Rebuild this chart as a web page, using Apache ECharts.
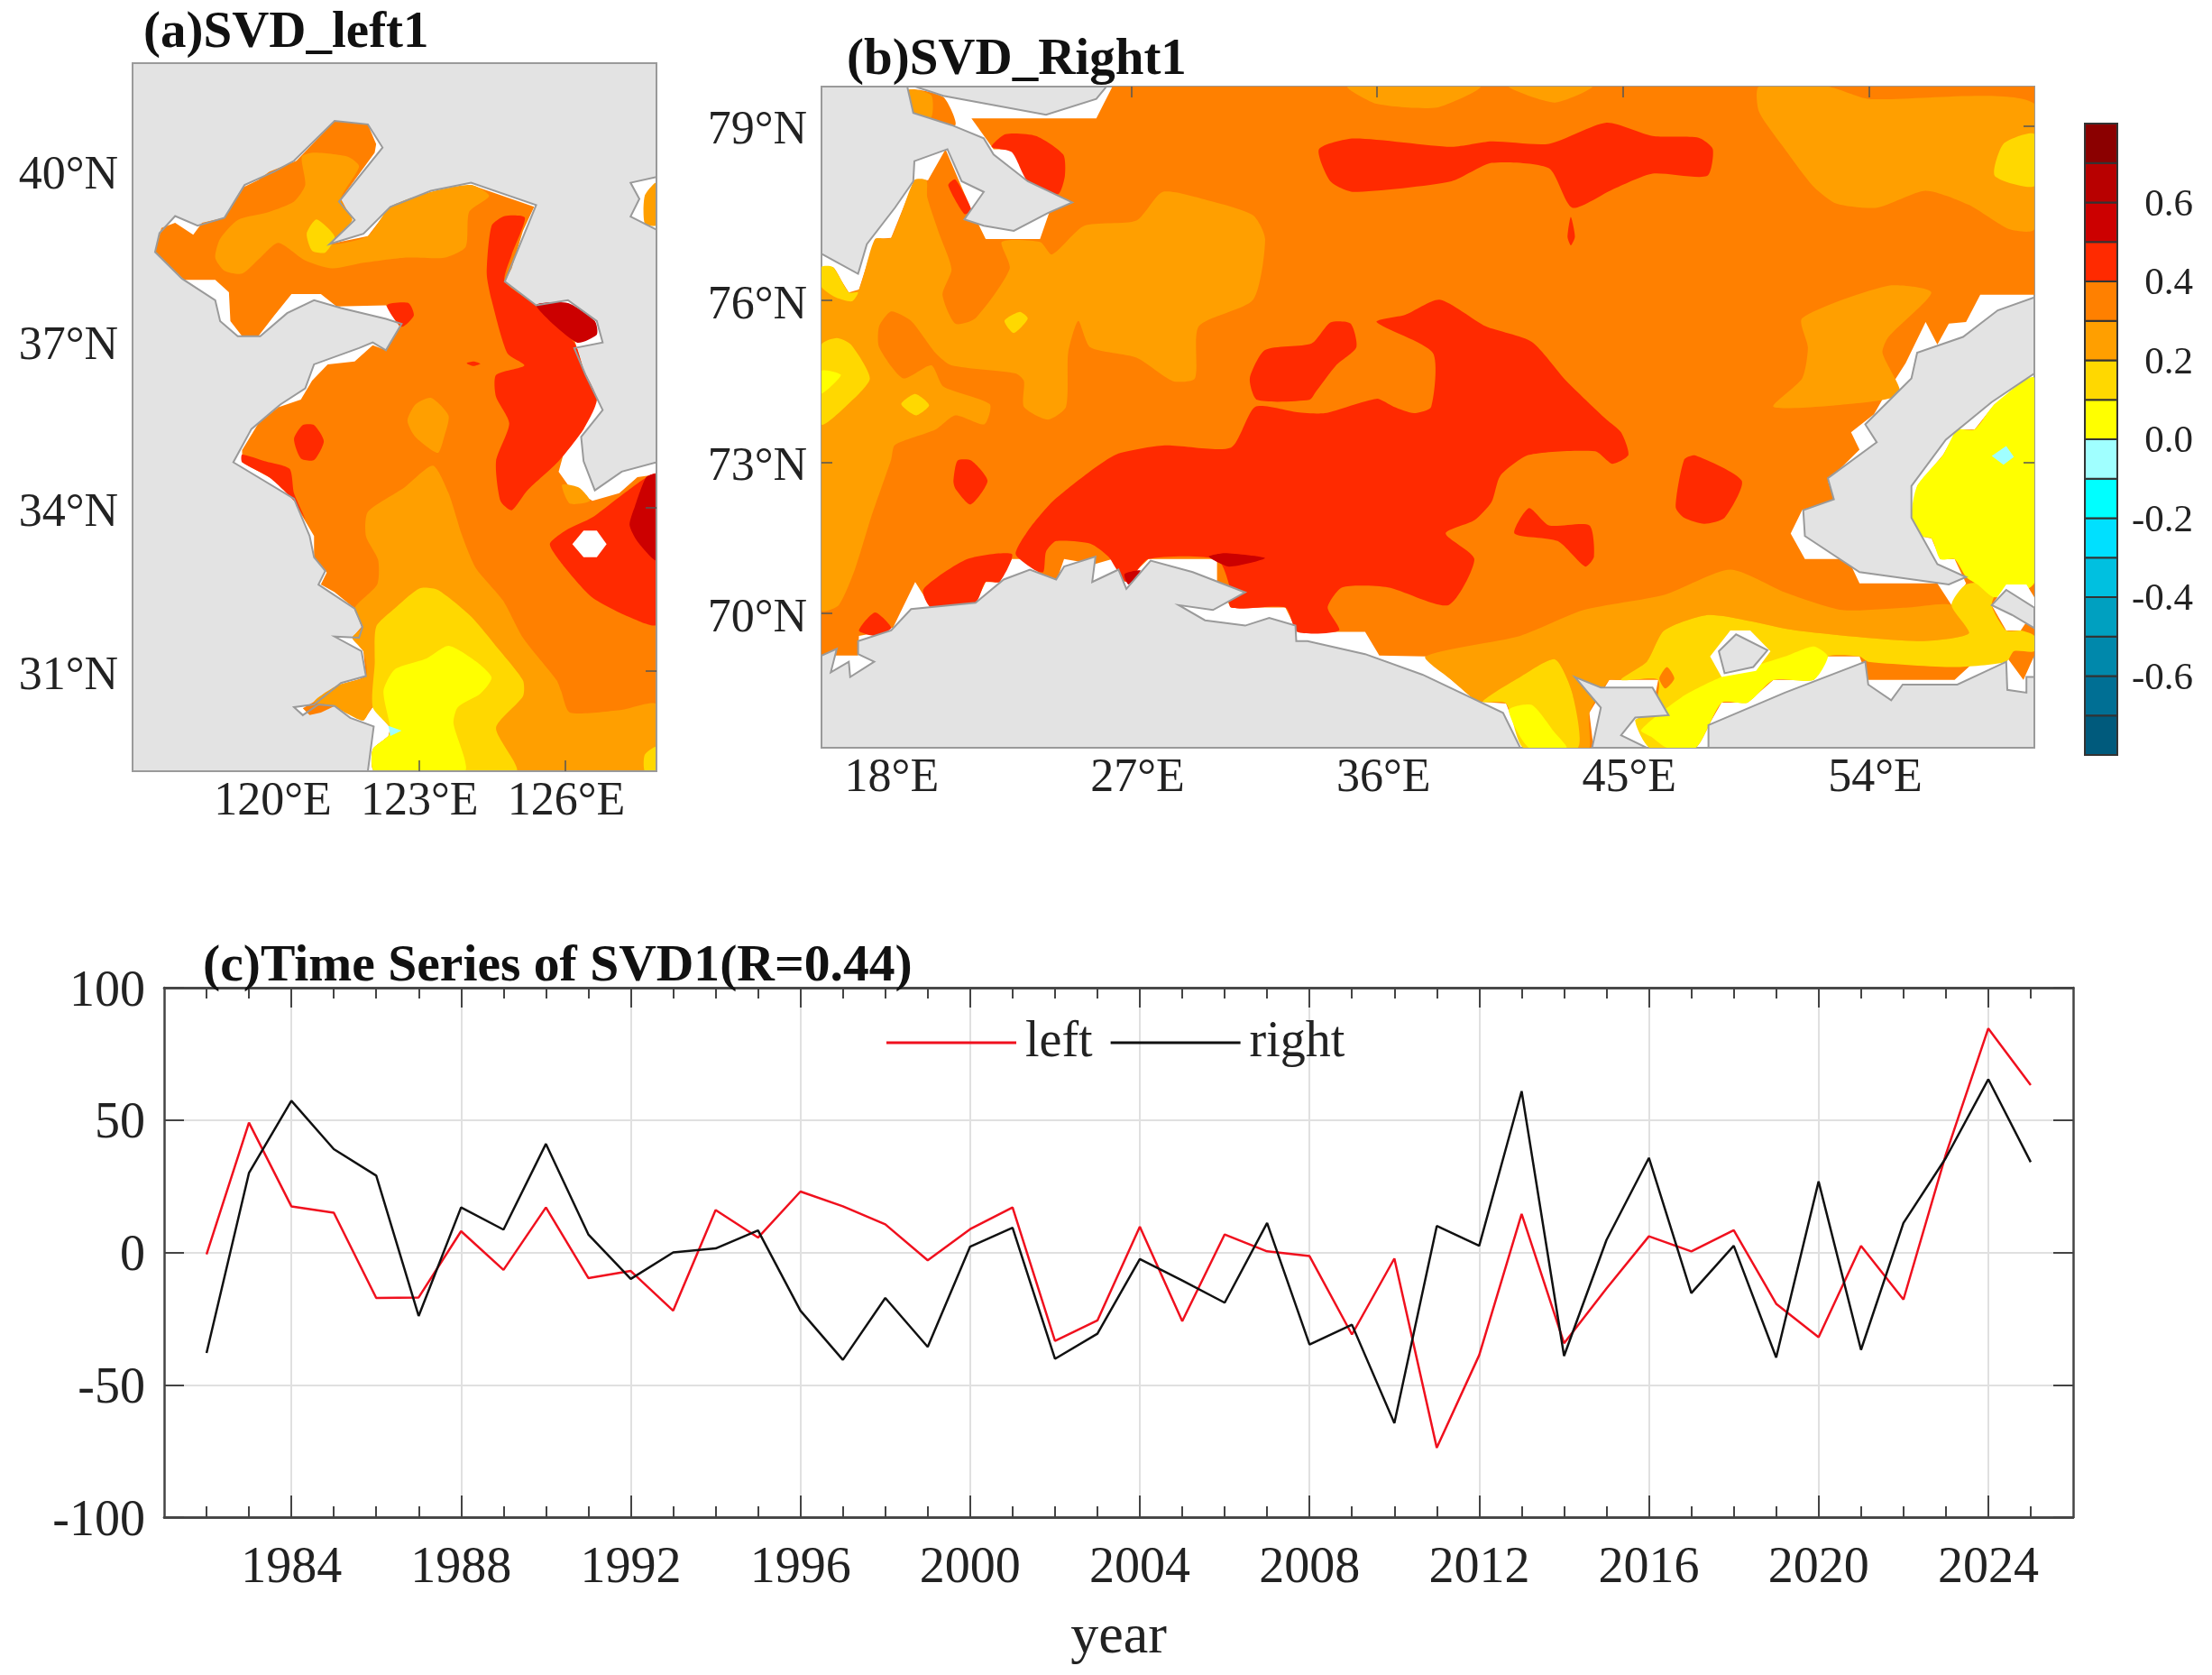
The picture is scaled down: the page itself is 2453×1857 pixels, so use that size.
<!DOCTYPE html>
<html><head><meta charset="utf-8">
<style>html,body{margin:0;padding:0;background:#fff}#c{width:2453px;height:1857px}</style>
<script src="https://cdn.jsdelivr.net/npm/echarts@6/dist/echarts.min.js"></script>
</head><body><div id="c"></div>
<script>
// ---------- time series ----------
const years=[1982,1983,1984,1985,1986,1987,1988,1989,1990,1991,1992,1993,1994,1995,1996,1997,1998,1999,2000,2001,2002,2003,2004,2005,2006,2007,2008,2009,2010,2011,2012,2013,2014,2015,2016,2017,2018,2019,2020,2021,2022,2023,2024,2025];
const leftSeries=[-0.7,49,17.4,15,-17.2,-17,8,-6.6,17,-9.7,-7,-22,16,5.6,23,17.4,10.6,-3,8.8,17,-33.4,-25.7,9.7,-26,6.8,0.4,-1.4,-31,-2.3,-73.8,-38.8,14.5,-34.3,-13.6,6.1,0.4,8.4,-19.4,-32,2.5,-17.8,37,84.6,63.2];
const rightSeries=[-38,30,57.3,39,29,-24,17,8.6,41,6.8,-10,0,1.5,8.3,-22,-40.6,-17.2,-35.7,2.2,9.3,-40.2,-30.7,-2.5,-10.6,-19,11.1,-34.8,-27.3,-64.5,10,2.5,60.9,-39.1,4.7,35.7,-15.4,2.5,-39.7,26.8,-36.8,11.1,35.7,65.4,34.1];
const yearTicks=[1984,1988,1992,1996,2000,2004,2008,2012,2016,2020,2024];
// ---------- colour scale ----------
const cbLevels=[-0.8,-0.7,-0.6,-0.5,-0.4,-0.3,-0.2,-0.1,0,0.1,0.2,0.3,0.4,0.5,0.6,0.7,0.8];
const cbColors=['#005a7c','#006f94','#0088ab','#00a0c0','#00c0e0','#00e0ff','#00ffff','#a0ffff','#ffff00','#ffd800','#ff9f00','#ff8000','#ff2a00','#cc0000','#b80000','#8b0000'];
const cbTicks=[-0.6,-0.4,-0.2,0,0.2,0.4,0.6];
const Pale='#a0ffff',Yel='#ffff00',Gold='#ffd800',LtO='#ff9f00',Org='#ff8000',Red='#ff2a00',Dark='#cc0000',White='#ffffff';
// ---------- panel (a) geography: [lon,lat] ----------
const lonRangeA=[117.15,127.86],latRangeA=[29.13,41.85];
const seaA=[[121.96,29.13],[122.08,29.97],[121.6,30.13],[121.28,30.35],[120.95,30.38],[120.63,30.18],[120.45,30.33],[120.86,30.38],[121.41,30.78],[121.92,30.91],[121.83,31.37],[121.28,31.64],[121.78,31.62],[121.85,31.82],[121.69,32.16],[120.95,32.6],[121.09,32.85],[120.86,33.1],[120.77,33.49],[120.45,34.17],[119.21,34.83],[119.58,35.43],[120.17,35.87],[120.68,36.16],[120.86,36.59],[121.78,36.88],[122.06,36.98],[122.33,36.84],[122.65,37.31],[122.33,37.4],[121.41,37.59],[120.86,37.73],[120.31,37.5],[119.76,37.09],[119.3,37.09],[118.94,37.36],[118.84,37.73],[118.16,38.11],[117.61,38.58],[117.7,38.91],[118.02,39.21],[118.48,39.04],[119.03,39.18],[119.44,39.75],[120.04,39.98],[120.45,40.17],[121.28,40.86],[121.96,40.8],[122.26,40.4],[121.37,39.46],[121.69,39.14],[121.18,38.72],[121.87,38.9],[122.42,39.37],[123.25,39.65],[124.07,39.79],[125.4,39.4],[124.76,38.06],[125.4,37.64],[126.05,37.73],[126.64,37.36],[126.76,36.98],[126.18,36.88],[126.41,36.4],[126.76,35.77],[126.32,35.29],[126.37,34.85],[126.6,34.32],[127.15,34.66],[127.86,34.83],[127.86,29.13]];
const seaA2=[[127.86,39.89],[127.33,39.79],[127.51,39.51],[127.33,39.2],[127.86,38.97]];
const baseA=[[122.1,29.13],[122.06,29.54],[122.38,29.79],[122.42,29.94],[122.06,30.33],[121.87,30.08],[121.5,30.23],[121.28,30.35],[121,30.23],[120.77,30.18],[120.63,30.31],[121.05,30.53],[121.32,30.73],[121.78,30.85],[121.92,30.91],[121.87,31.37],[121.64,31.62],[121.83,31.82],[121.69,32.16],[121.28,32.46],[121,32.6],[121.12,32.82],[120.86,33.1],[120.86,33.49],[120.5,34.03],[120.4,34.32],[119.94,34.56],[119.39,34.83],[119.39,35.05],[119.72,35.53],[120.13,35.82],[120.59,35.96],[120.82,36.3],[121.14,36.59],[121.69,36.64],[122.06,36.93],[122.33,36.84],[122.61,37.26],[122.33,37.64],[121.32,37.62],[121,37.84],[120.4,37.84],[120.04,37.45],[119.72,37.09],[119.39,37.09],[119.15,37.36],[119.12,37.87],[118.84,38.09],[118.2,38.09],[117.61,38.58],[117.74,39],[118.02,39.09],[118.39,38.88],[118.57,39.09],[119.03,39.18],[119.39,39.7],[119.72,39.84],[119.94,39.98],[120.5,40.17],[121.28,40.86],[121.96,40.8],[122.13,40.46],[122.1,40.31],[121.41,39.51],[121.64,39.14],[121.18,38.72],[121.96,38.86],[122.42,39.37],[122.7,39.44],[123.29,39.61],[124.07,39.75],[125.36,39.37],[125.13,38.95],[124.9,38.29],[124.76,38.06],[125.4,37.64],[126.05,37.68],[126.6,37.36],[126.64,37.12],[126.18,37.03],[126.37,36.5],[126.64,35.96],[126.37,35.43],[125.95,34.95],[125.86,34.66],[126.05,34.42],[126.55,34.13],[127.1,34.27],[127.47,34.56],[127.86,34.61],[127.86,29.13]];
const a_lt1=[[120.61,40.24],[120.86,40.31],[121.55,40.24],[121.78,40.07],[121.41,39.51],[121.64,39.14],[121.18,38.72],[121.96,38.86],[122.42,39.37],[123.25,39.63],[124.07,39.75],[124.44,39.56],[124.03,39.28],[123.96,38.67],[123.52,38.48],[122.7,38.48],[121.87,38.39],[121.23,38.29],[120.68,38.43],[120.13,38.74],[119.76,38.48],[119.39,38.2],[119.03,38.25],[118.84,38.48],[118.94,38.81],[119.3,39.14],[119.94,39.28],[120.45,39.46],[120.68,39.75]];
const a_gold1=[[120.71,38.9],[120.91,39.15],[121.28,38.85],[121.09,38.57],[120.82,38.6]];
const a_lt2=[[122.77,35.58],[122.93,35.87],[123.25,35.99],[123.61,35.67],[123.52,35.29],[123.39,35],[122.93,35.29]];
const a_lt3=[[123.29,34.77],[122.7,34.37],[121.96,33.93],[121.92,33.49],[122.17,33.05],[122.15,32.6],[121.69,32.16],[121.85,31.82],[121.64,31.62],[121.87,31.37],[121.92,30.91],[121.32,30.73],[120.86,30.43],[121.28,30.35],[121.5,30.23],[121.87,30.08],[122.06,30.33],[122.42,29.94],[122.38,29.79],[122.06,29.54],[122.1,29.13],[127.86,29.13],[127.86,30.38],[127.15,30.28],[126.09,30.23],[125.91,30.63],[125.82,30.83],[125.13,31.62],[124.72,32.31],[124.17,32.9],[123.89,33.49],[123.61,34.27]];
const a_lt4=[[125.93,34.42],[126.28,34.37],[126.5,34.13],[126.09,34.08]];
const a_lt5=[[127.62,39.56],[127.86,39.79],[127.86,39.05],[127.62,39.08]];
const a_gold2=[[122.13,31.82],[122.51,32.16],[123.02,32.53],[123.39,32.5],[124.07,32.01],[124.62,31.42],[125.13,30.83],[125.13,30.53],[124.58,29.94],[124.99,29.13],[122.1,29.13],[122.06,29.54],[122.38,29.79],[122.42,29.94],[122.06,30.33],[122.1,31.13]];
const a_yel=[[122.28,30.63],[122.51,31.03],[123.15,31.23],[123.61,31.47],[124.17,31.18],[124.49,30.88],[124.26,30.58],[123.8,30.33],[123.71,30.03],[123.94,29.13],[122.1,29.13],[122.06,29.54],[122.38,29.79],[122.42,29.94]];
const a_pale=[[122.38,29.98],[122.65,29.89],[122.42,29.79]];
const a_gold3=[[127.62,29.44],[127.86,29.59],[127.86,29.13],[127.62,29.13]];
const a_red1=[[124.49,39.04],[124.76,39.21],[125.17,39.18],[124.9,38.53],[124.76,38.06],[125.4,37.64],[126.18,36.98],[126.37,36.5],[126.64,35.96],[126.37,35.43],[125.86,34.85],[125.22,34.32],[124.9,33.96],[124.67,34.13],[124.58,34.85],[124.85,35.53],[124.58,36.01],[124.58,36.4],[125.16,36.57],[124.81,36.79],[124.49,37.73],[124.39,38.2]];
const a_dark1=[[125.4,37.64],[126.05,37.68],[126.6,37.36],[126.64,37.12],[126.23,36.98]];
const a_red2=[[122.35,37.64],[122.79,37.68],[122.9,37.46],[122.65,37.26]];
const a_red3=[[120.45,35.25],[120.63,35.5],[120.86,35.5],[121.06,35.21],[120.86,34.87],[120.59,34.9]];
const a_red4=[[119.39,34.97],[119.85,34.85],[120.36,34.71],[120.45,34.27],[120.68,33.8],[120.45,34.13],[119.94,34.56],[119.39,34.83]];
const a_red5=[[123.98,36.61],[124.12,36.64],[124.26,36.6],[124.12,36.56]];
const a_red6=[[125.68,33.34],[126,33.59],[126.55,33.83],[127.28,34.32],[127.86,34.61],[127.86,31.87],[127.28,32.01],[126.55,32.36],[126,32.9]];
const a_dark2=[[127.65,34.56],[127.86,34.61],[127.86,33.05],[127.47,33.39],[127.31,33.69],[127.42,34.03]];
const a_white=[[126.14,33.34],[126.37,33.59],[126.64,33.59],[126.84,33.34],[126.64,33.1],[126.37,33.1]];
const layersA=[[White,seaA],[White,seaA2],[Org,baseA],[LtO,a_lt1],[Gold,a_gold1],[LtO,a_lt2],[LtO,a_lt3],[LtO,a_lt4],[LtO,a_lt5],[Gold,a_gold2],[Gold,a_gold3],[Yel,a_yel],[Pale,a_pale],[Red,a_red1],[Dark,a_dark1],[Red,a_red2],[Red,a_red3],[Red,a_red4],[Red,a_red5],[Red,a_red6],[Dark,a_dark2],[White,a_white]];
const coastA=[seaA,seaA2];
const lonLabelsA=[120,123,126],lonTicksA=[123,126],latLabelsA=[31,34,37,40],latTicksRightA=[31,34];
// ---------- panel (b) geography: [lon,lat] ----------
const lonRangeB=[15.66,60.06],latRangeB=[67.17,79.64];
const baseB=[[26.31,79.64],[60.06,79.64],[60.06,76.1],[58.08,76.1],[57.56,75.61],[56.93,75.58],[56.51,75.2],[56.08,75.61],[55.35,74.86],[54.5,74.19],[54.19,73.91],[53.35,73.57],[53.66,73.24],[52.5,72.64],[52.72,72.28],[51.56,72.07],[51.14,71.61],[51.66,71.1],[53.24,71.1],[53.66,70.61],[56.51,70.61],[57.03,70.17],[57.56,70.61],[57.14,71.1],[56.61,71.1],[56.3,71.51],[55.87,71.56],[55.56,71.92],[55.77,72.54],[56.72,73.14],[57.24,73.62],[57.87,73.62],[58.61,74.1],[60.06,74.58],[60.06,69.13],[59.66,68.62],[59.03,69.11],[58.08,69.11],[57.14,68.62],[53.98,68.62],[53.66,69.11],[52.5,69.11],[51.98,68.62],[50.51,68.62],[49.56,68.14],[48.61,68.14],[47.66,67.17],[45.98,67.17],[45.45,67.76],[46.08,68],[46.29,68.62],[44.5,68.62],[43.77,67.92],[43.92,67.17],[41.35,67.17],[40.72,68.12],[39.66,68.16],[38.72,68.62],[37.77,69.11],[36.08,69.13],[35.56,69.62],[33.08,69.62],[32.64,70.12],[30.65,70.12],[30.14,70.59],[30.14,71.1],[27.63,71.1],[26.75,70.64],[26.31,71.1],[25.65,71],[24.54,71.1],[24.25,70.64],[23.8,70.64],[23.29,71.1],[22.63,71.1],[22.18,70.64],[21.67,70.64],[21.3,70.2],[19.68,70.12],[19.09,70.64],[18.28,69.71],[17.62,69.6],[17.03,69.54],[17,69.13],[15.66,69.13],[15.66,76.59],[16.07,76.59],[16.66,76.14],[17.03,76.19],[17.62,77.08],[18.21,77.1],[19.06,78.09],[19.56,78.09],[20.2,78.61],[21.15,77.58],[21.67,77.08],[23.66,77.08],[24.03,77.58],[23.21,78.07],[22.77,78.61],[21.96,78.61],[21.15,79.12],[25.72,79.12]];
const b_org0=[[18.87,79.59],[20.12,79.47],[20.56,79.01],[19.02,79.21]];
const b_lt0=[[18.87,79.59],[19.68,79.5],[19.68,79.14],[19.02,79.21]];
const b_lt1=[[15.66,76.28],[16.07,76.59],[16.66,76.14],[17.03,76.19],[17.62,77.08],[18.21,77.1],[19.06,78.09],[19.5,78.09],[19.53,77.8],[19.97,77.17],[20.42,76.55],[20.09,76.1],[20.56,75.58],[21.3,75.68],[22.55,76.56],[22.26,77.03],[23.66,77.03],[24.1,76.81],[25.28,77.31],[27.19,77.4],[28.15,77.89],[29.7,77.76],[31.46,77.49],[31.9,77.08],[31.46,76.01],[29.47,75.53],[29.33,74.58],[28.52,74.53],[27.19,74.96],[25.5,75.15],[25.06,75.63],[24.69,75.05],[24.61,74.05],[23.95,73.81],[23.07,74.05],[23.07,74.53],[22.77,74.67],[20.42,74.82],[19.83,75.05],[18.94,75.63],[18.21,75.8],[17.77,75.53],[17.77,75.15],[18.65,74.58],[19.68,74.82],[20.12,74.43],[21.82,74.1],[21.62,73.72],[20.56,73.89],[19.83,73.62],[18.35,73.33],[18.21,73.05],[17.47,71.92],[16.88,70.89],[16.29,70.17],[15.66,70.07]];
const b_gold1=[[15.66,76.59],[16.07,76.59],[16.66,76.14],[17,76.14],[16.78,75.98],[16.19,76.05],[15.66,76.24]];
const b_gold2=[[15.66,75.2],[16.22,75.32],[16.74,75.2],[17.43,74.58],[16.74,74.15],[15.66,73.72]];
const b_yel1=[[15.66,74.72],[16.37,74.64],[15.66,74.3]];
const b_gold3=[[22.36,75.63],[22.92,75.79],[23.21,75.67],[22.7,75.41]];
const b_gold4=[[18.58,74.1],[19.09,74.29],[19.6,74.08],[19.12,73.89]];
const b_red1=[[22.77,71.2],[23.21,71.66],[24.1,72.23],[25.28,72.74],[26.46,73.15],[28.22,73.32],[30.65,73.28],[31.54,74.05],[33.08,73.95],[34.08,73.93],[35.98,74.2],[36.61,74.05],[37.35,73.93],[37.98,74.05],[38.04,75.05],[35.98,75.61],[37.03,75.74],[38.29,76.01],[39.98,75.53],[41.66,75.25],[42.93,74.53],[44.4,73.81],[44.93,73.57],[45.2,73.14],[44.61,72.97],[43.98,73.21],[41.56,73.14],[40.51,72.74],[40.19,72.23],[39.56,71.87],[38.51,71.61],[39.56,71.1],[38.61,70.17],[36.4,70.53],[34.72,70.53],[34.19,70.12],[34.61,69.65],[33.08,69.62],[32.64,70.12],[30.65,70.12],[30.58,70.59],[30.14,71.1],[27.63,71.1],[26.82,70.64],[26.16,71.15],[25.5,71.41],[24.25,71.46],[23.88,71.25],[23.78,70.84],[23.44,70.89]];
const b_dark1=[[26.75,70.8],[27.34,70.87],[26.9,70.59]];
const b_dark2=[[29.84,71.15],[30.43,71.22],[31.9,71.12],[30.58,70.95]];
const b_red2=[[31.34,74.58],[31.9,75.1],[33.6,75.22],[34.29,75.6],[35.03,75.58],[35.24,75.15],[34.5,74.82],[33.77,74.34],[33.52,74.18],[31.61,74.18]];
const b_red3=[[33.87,78.61],[35.14,78.79],[38.72,78.65],[40.19,78.74],[42.29,78.7],[44.4,79.05],[46.08,78.83],[47.77,78.8],[48.29,78.61],[48.08,78.16],[46.08,78.2],[44.61,77.93],[43.14,77.62],[42.29,78.29],[40.19,78.38],[38.72,78.07],[35.14,77.89],[34.29,78.07]];
const b_red3s=[[43.09,77.46],[43.24,77.12],[43.09,76.97],[42.97,77.12]];
const b_red4=[[41.03,71.61],[41.56,72.11],[42.29,71.77],[43.77,71.77],[43.94,71.15],[43.62,70.95],[42.61,71.46]];
const b_red5=[[46.93,72.13],[47.24,73.05],[47.66,73.13],[49.35,72.64],[48.72,71.92],[47.98,71.8],[47.24,71.92]];
const b_red6=[[21.89,78.65],[22.4,78.86],[23.51,78.83],[24.51,78.52],[24.57,78.16],[24.32,77.85],[23.21,78.07],[22.63,78.56]];
const b_red7=[[20.49,72.64],[20.64,73.03],[21.15,73.03],[21.74,72.64],[21.12,72.18],[20.56,72.49]];
const b_red8=[[19.39,70.49],[21,71.1],[22.63,71.2],[22.18,70.64],[21.67,70.64],[21.3,70.23],[19.68,70.12]];
const b_red9=[[17.03,69.65],[17.62,70.02],[18.21,69.7],[17.62,69.54]];
const b_red10=[[20.3,78],[20.56,78.1],[21.15,77.58],[20.89,77.51]];
const b_lt2=[[49.98,79.64],[52.5,79.64],[53.98,79.44],[60.06,79.36],[60.06,77.25],[59.14,77.25],[57.66,77.67],[56.08,77.91],[54.29,77.62],[52.82,77.69],[51.98,77.98],[50.93,78.61],[49.98,79.23]];
const b_gold5=[[58.61,78.16],[58.93,78.7],[60.06,78.86],[60.06,77.99]];
const b_lt3=[[34.93,79.64],[39.77,79.64],[38.19,79.3],[35.98,79.36]];
const b_lt4=[[40.83,79.64],[43.87,79.64],[42.5,79.38]];
const b_lt5=[[51.56,75.68],[54.72,76.26],[56.29,76.14],[54.72,75.34],[54.5,75.05],[55.14,74.29],[53.24,74.1],[50.51,74.05],[51.56,74.58],[51.77,75.15]];
const b_lt6=[[37.77,69.11],[41.24,69.54],[43.56,70.07],[46.51,70.38],[48.93,70.89],[50.93,70.43],[53.03,70.07],[55.45,70.12],[57.03,70.17],[57.66,69.59],[55.77,69.43],[51.35,69.65],[48.19,69.97],[46.51,69.65],[45.87,69],[44.93,68.62],[44.5,68.62],[43.77,67.92],[43.77,67.17],[43.35,67.17],[43.14,68.35],[42.51,69.05],[41.24,68.68],[39.87,68.16],[39.66,68.16],[38.72,68.62]];
const b_gold6=[[46.51,69.65],[48.19,69.97],[51.35,69.65],[55.77,69.43],[57.66,69.59],[57.03,70.17],[57.56,70.59],[58.72,70.59],[58.5,70.17],[59.03,69.65],[59.56,69.65],[60.06,69.54],[60.06,69.22],[59.31,69.22],[59.03,69],[57.14,68.89],[53.98,69],[53.66,69.11],[52.5,69.11],[51.98,68.62],[50.51,68.62],[49.56,68.14],[48.61,68.14],[47.66,67.17],[45.98,67.17],[45.45,67.76],[46.08,67.92],[46.29,68.62],[44.93,68.62],[45.87,69]];
const b_gold7=[[39.87,68.16],[41.24,68.68],[42.51,69.05],[43.14,68.35],[43.35,67.17],[41.35,67.17],[40.72,68.12]];
const b_yel2=[[40.82,67.98],[41.66,68.09],[42.51,67.49],[42.93,67.17],[41.56,67.17]];
const b_yel3=[[45.66,67.55],[47.14,68.25],[48.61,68.68],[50.93,69.11],[51.98,69.32],[52.5,69.11],[51.98,68.62],[50.51,68.62],[49.56,68.14],[48.61,68.14],[47.66,67.17],[46.61,67.17],[46.08,67.39]];
const b_org1=[[46.61,68.89],[46.88,68.65],[46.55,68.44],[46.33,68.65]];
const b_yel4=[[60.06,74.58],[58.61,74.1],[57.87,73.62],[57.24,73.62],[56.72,73.14],[55.77,72.54],[55.56,71.92],[55.87,71.56],[56.3,71.51],[56.61,71.1],[57.14,71.1],[57.56,70.74],[57.98,70.59],[58.61,70.33],[60.06,70.63]];
const b_pale=[[58.5,73.12],[59.03,73.31],[59.31,73.1],[58.93,72.95]];
const b_w1=[[58.5,70.17],[59.03,69.65],[59.56,69.65],[60.06,70.07],[60.06,70.33],[59.77,70.59],[59.03,70.59]];
const b_w2=[[48.19,69.11],[48.93,69.65],[49.66,69.65],[50.4,69.22],[49.87,68.81],[48.61,68.68]];
const landB1=[[15.66,79.64],[18.8,79.64],[19.02,79.21],[20.42,79.01],[21.6,78.79],[21.96,78.52],[23.21,78.07],[24.84,77.71],[23.95,77.53],[22.7,77.22],[21.6,77.31],[20.89,77.42],[21.6,77.89],[20.79,78.07],[20.27,78.61],[19.06,78.41],[19.02,78.07],[18.35,77.62],[17.32,76.99],[17,76.47],[15.66,76.82]];
const landB2=[[19.09,79.64],[20.12,79.49],[23.88,79.18],[25.72,79.44],[26.09,79.64]];
const landB3=[[15.66,69.13],[16.22,69.27],[16,68.78],[16.66,69],[16.71,68.68],[17.59,69],[17,69.16],[17,69.43],[18.21,69.65],[18.94,70.09],[21.3,70.22],[22.33,70.69],[23.29,70.89],[24.25,70.69],[24.54,70.95],[25.69,71.15],[25.57,70.64],[26.53,70.89],[26.82,70.5],[27.71,71.07],[29.25,70.84],[31.17,70.43],[29.99,70.07],[28.74,70.17],[29.7,69.86],[31.17,69.75],[32.05,69.91],[33.01,69.75],[33.04,69.43],[33.45,69.43],[35.56,69.16],[37.66,68.73],[40.61,67.92],[41.24,67.17],[15.66,67.17]];
const landB4=[[43.24,68.68],[44.19,68.46],[46.08,68.46],[46.67,67.87],[45.45,67.82],[44.93,67.44],[45.87,67.17],[43.87,67.17],[44.19,68.03]];
const landB5=[[48.13,67.66],[50.93,68.35],[53.87,69],[53.98,68.52],[54.82,68.19],[55.24,68.52],[57.24,68.52],[59.03,69],[59.07,68.41],[59.77,68.35],[59.77,68.68],[60.06,68.68],[60.06,67.17],[48.13,67.17]];
const landB6=[[48.51,69.22],[49.14,69.57],[50.29,69.24],[49.77,68.89],[48.72,68.76]];
const landB7=[[58.5,70.17],[59.03,70.48],[60.06,70.12],[60.06,69.7],[59.24,69.97]];
const landB8=[[60.06,76.05],[58.72,75.82],[57.45,75.34],[55.77,75.05],[55.56,74.58],[53.87,73.72],[54.29,73.38],[52.5,72.69],[52.72,72.28],[51.6,72.07],[51.66,71.56],[53.66,70.84],[56.93,70.59],[57.56,70.74],[56.51,71],[55.56,71.92],[55.56,72.54],[56.82,73.43],[58.5,74.14],[60.06,74.67]];
const layersB=[[Org,baseB],[Org,b_org0],[LtO,b_lt0],[LtO,b_lt1],[Gold,b_gold1],[Gold,b_gold2],[Yel,b_yel1],[Gold,b_gold3],[Gold,b_gold4],[Red,b_red1],[Dark,b_dark1],[Dark,b_dark2],[Red,b_red2],[Red,b_red3],[Red,b_red3s],[Red,b_red4],[Red,b_red5],[Red,b_red6],[Red,b_red7],[Red,b_red8],[Red,b_red9],[Red,b_red10],[LtO,b_lt2],[Gold,b_gold5],[LtO,b_lt3],[LtO,b_lt4],[LtO,b_lt5],[LtO,b_lt6],[Gold,b_gold6],[Gold,b_gold7],[Yel,b_yel2],[Yel,b_yel3],[Org,b_org1],[Yel,b_yel4],[Pale,b_pale],[White,b_w1],[White,b_w2]];
const landsB=[landB1,landB2,landB3,landB4,landB5,landB6,landB7,landB8];
const lonLabelsB=[18,27,36,45,54],lonTicksB=[27,36,45,54],latLabelsB=[70,73,76,79],latTicksLeftB=[70,73,76],latTicksRightB=[73,79];

const LAND='#e3e3e3',COAST='#9a9a9a',FRAME='#9a9a9a',TEXT='#222',SERIF='"Liberation Serif"';
const miller=l=>1.25*Math.log(Math.tan(Math.PI/4+0.4*l*Math.PI/180))*180/Math.PI;
const invMiller=y=>(Math.atan(Math.exp(y*Math.PI/180/1.25))-Math.PI/4)/0.4*180/Math.PI;

function mapSeries(name,xi,yi,items,z){
  return {type:'custom',name,xAxisIndex:xi,yAxisIndex:yi,clip:true,z,silent:true,
    data:items.map((_,i)=>[i]),encode:{x:-1,y:-1},
    renderItem(p,api){
      const it=items[p.dataIndex];
      return {type:'polygon',shape:{points:it.poly.map(v=>api.coord([v[0],miller(v[1])])),smooth:it.smooth||0},
        style:{fill:it.fill||'none',stroke:it.stroke||null,lineWidth:it.stroke?2:0}};
    }};
}
const isRaw=l=>l[0]===White||l[1]===baseA||l[1]===baseB||l[0]===Pale;
const toItem=l=>({fill:l[0],poly:l[1],smooth:isRaw(l)?0:0.22});
const itemsA=layersA.map(toItem).concat(coastA.map(p=>({stroke:COAST,poly:p})));
const itemsB=layersB.map(toItem).concat(landsB.map(p=>({fill:LAND,stroke:COAST,poly:p})));

const lonFmt=v=>Math.round(v)+'°E', latFmt=v=>Math.round(invMiller(v))+'°N';
const lblMap={color:TEXT,fontFamily:SERIF,fontSize:52};
function geoAxes(lonR,latR,lonLabels,lonTop,lonBottom,latLabels,latLeft,latRight,gi,xPad){
  const hide={show:false};
  const base={gridIndex:gi,type:'value',z:10,splitLine:hide,axisLine:{show:false}};
  const tick=vals=>({show:true,inside:true,length:12,customValues:vals,lineStyle:{color:'#555',width:1.5}});
  const x=[{...base,position:'bottom',min:lonR[0],max:lonR[1],
      axisLabel:{...lblMap,customValues:lonLabels,formatter:lonFmt,margin:8,padding:[0,0,0,xPad]},
      axisTick:lonBottom?tick(lonBottom):hide},
    {...base,position:'top',min:lonR[0],max:lonR[1],axisLabel:hide,axisTick:lonTop?tick(lonTop):hide}];
  const y=[{...base,position:'left',min:miller(latR[0]),max:miller(latR[1]),
      axisLabel:{...lblMap,customValues:latLabels.map(miller),formatter:latFmt,margin:16,verticalAlign:'top',lineHeight:12},
      axisTick:latLeft?tick(latLeft.map(miller)):hide},
    {...base,position:'right',min:miller(latR[0]),max:miller(latR[1]),axisLabel:hide,axisTick:latRight?tick(latRight.map(miller)):hide}];
  return {x,y};
}
const axA=geoAxes(lonRangeA,latRangeA,lonLabelsA,null,lonTicksA,latLabelsA,null,latTicksRightA,0,2);
const axB=geoAxes(lonRangeB,latRangeB,lonLabelsB,lonTicksB,null,latLabelsB,latTicksLeftB,latTicksRightB,1,14);

const tsLine={show:true,onZero:false,lineStyle:{color:'#444',width:2.5}};
const tsX=(pos,vals,len,labels,extra)=>({gridIndex:3,type:'value',position:pos,min:1981,max:2026,
  axisLine:tsLine,axisTick:{show:true,inside:true,length:len,customValues:vals,lineStyle:{color:'#444',width:2}},
  axisLabel:labels?{color:TEXT,fontFamily:SERIF,fontSize:56,customValues:yearTicks,formatter:v=>String(v),margin:29}:{show:false},
  splitLine:{show:false},...extra});
const tsY=(pos,labels)=>({gridIndex:3,type:'value',position:pos,min:-100,max:100,interval:50,
  axisLine:tsLine,axisTick:{show:true,inside:true,length:22,lineStyle:{color:'#444',width:2}},
  axisLabel:labels?{color:TEXT,fontFamily:SERIF,fontSize:56,margin:21,verticalAlign:'top',lineHeight:10}:{show:false},
  splitLine:labels?{show:true,lineStyle:{color:'#e0e0e0',width:2}}:{show:false}});

const xAxes=[...axA.x,...axB.x,
  {gridIndex:2,type:'value',min:0,max:1,show:false},
  tsX('bottom',yearTicks,24,true,{name:'year',nameLocation:'middle',nameGap:103,nameTextStyle:{color:TEXT,fontFamily:SERIF,fontSize:62},
     splitLine:{show:true,customValues:yearTicks,lineStyle:{color:'#e0e0e0',width:2}}}),
  tsX('bottom',years,12,false),tsX('top',yearTicks,22,false),tsX('top',years,12,false)];
const yAxes=[...axA.y,...axB.y,
  {gridIndex:2,type:'value',position:'right',min:-0.8,max:0.8,axisLine:{show:false},axisTick:{show:false},splitLine:{show:false},
    axisLabel:{color:TEXT,fontFamily:SERIF,fontSize:43,customValues:cbTicks,formatter:v=>v.toFixed(1),margin:84,align:'right',verticalAlign:'top',lineHeight:6}},
  tsY('left',true),tsY('right',false)];
const titleStyle={fontFamily:SERIF,fontWeight:'bold',fontSize:57,color:'#111'};
const option={
  animation:false,backgroundColor:'#fff',
  title:[
    {text:'(a)SVD_left1',left:154,top:4,textStyle:titleStyle},
    {text:'(b)SVD_Right1',left:934,top:34,textStyle:titleStyle},
    {text:'(c)Time Series of SVD1(R=0.44)',left:220,top:1038,textStyle:{...titleStyle,fontSize:57.6}}
  ],
  grid:[
    {left:147,top:70,width:581,height:785,show:true,backgroundColor:LAND,borderColor:FRAME,borderWidth:2},
    {left:911,top:96,width:1345,height:733,show:true,backgroundColor:'#fff',borderColor:FRAME,borderWidth:2},
    {left:2312,top:137,width:36,height:700},
    {left:182,top:1095,width:2117,height:587}
  ],
  xAxis:xAxes,yAxis:yAxes,
  legend:{data:['left','right'],icon:'rect',left:983,top:1128,padding:0,itemWidth:144,itemHeight:3,itemGap:20,
    textStyle:{fontFamily:SERIF,fontSize:56,color:TEXT,padding:[0,0,0,5],verticalAlign:'top',lineHeight:8}},
  series:[
    mapSeries('mapA',0,0,itemsA,2),
    mapSeries('mapB',2,2,itemsB,2),
    {type:'custom',name:'colorbar',xAxisIndex:4,yAxisIndex:4,silent:true,data:cbColors.map((_,i)=>[i]),encode:{x:-1,y:-1},
      renderItem(p,api){
        const i=p.dataIndex,a=api.coord([0,cbLevels[i]]),b=api.coord([1,cbLevels[i+1]]);
        return {type:'rect',shape:{x:a[0],y:b[1],width:b[0]-a[0],height:a[1]-b[1]},style:{fill:cbColors[i],stroke:'#333',lineWidth:2}};
      }},
    {type:'line',name:'left',xAxisIndex:5,yAxisIndex:5,data:years.map((y,i)=>[y,leftSeries[i]]),symbol:'none',lineStyle:{color:'#f0101e',width:2.5},itemStyle:{color:'#f0101e'},z:4},
    {type:'line',name:'right',xAxisIndex:5,yAxisIndex:5,data:years.map((y,i)=>[y,rightSeries[i]]),symbol:'none',lineStyle:{color:'#111',width:2.5},itemStyle:{color:'#111'},z:5}
  ]
};
echarts.init(document.getElementById('c'),null,{renderer:'canvas'}).setOption(option);
</script></body></html>
